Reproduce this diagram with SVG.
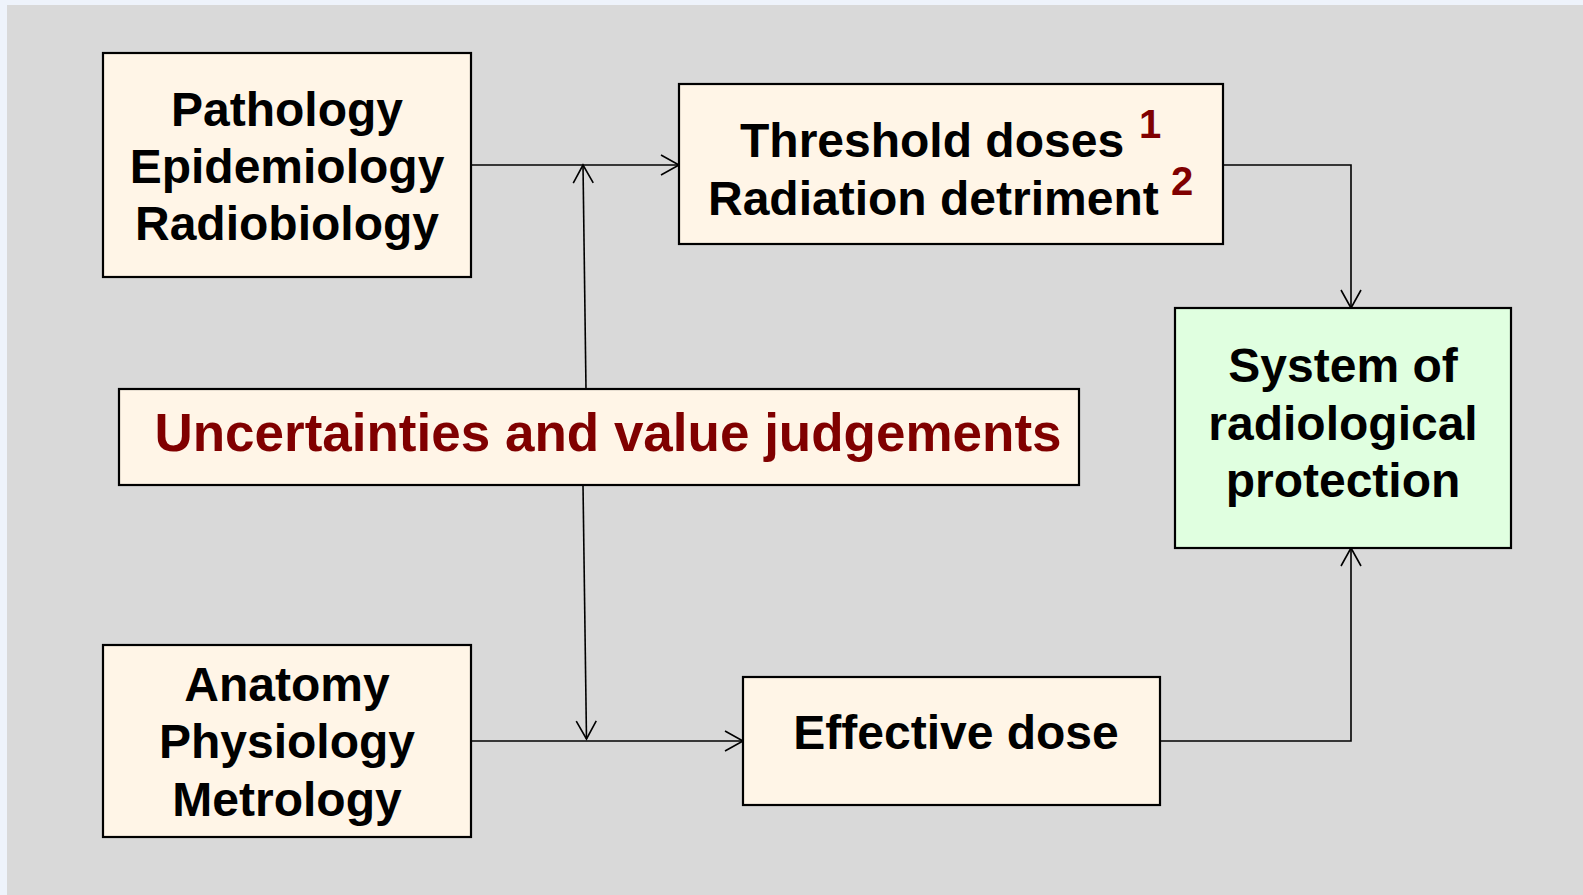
<svg xmlns="http://www.w3.org/2000/svg" width="1583" height="895" viewBox="0 0 1583 895">
<style>
.box{fill:#fff5e7;stroke:#000;stroke-width:2.2}
.green{fill:#e0ffe0;stroke:#000;stroke-width:2.2}
.t{font-family:"Liberation Sans",Arial,sans-serif;font-weight:bold;font-size:48px;fill:#000;text-anchor:middle}
.red{fill:#800000}
.sup{font-family:"Liberation Sans",Arial,sans-serif;font-weight:bold;font-size:40px;fill:#800000}
.c{fill:none;stroke:#000;stroke-width:1.6}
.sh{fill:none;stroke:#7d8a9c;stroke-width:7;opacity:0.85}
</style>
<defs>
<marker id="ah" markerUnits="userSpaceOnUse" markerWidth="24" markerHeight="24" viewBox="-20 -12 24 24" refX="0" refY="0" orient="auto">
<path d="M-18,-10 L0,0 L-18,10" fill="none" stroke="#000" stroke-width="1.6"/>
</marker>
<filter id="blur" x="-10%" y="-200%" width="120%" height="500%">
<feGaussianBlur stdDeviation="3"/>
</filter>
</defs>
<rect x="0" y="0" width="1583" height="895" fill="#eef3fb"/>
<rect x="7" y="5" width="1576" height="890" fill="#d9d9d9"/>

<g id="connectors">
<line class="sh" x1="474" y1="172" x2="676" y2="172" filter="url(#blur)"/>
<line class="sh" x1="474" y1="747" x2="740" y2="747" filter="url(#blur)"/>
<line class="c" x1="471" y1="165" x2="679" y2="165" marker-end="url(#ah)"/>
<line class="c" x1="586" y1="389" x2="583" y2="165" marker-end="url(#ah)"/>
<line class="c" x1="583" y1="485" x2="586.5" y2="739" marker-end="url(#ah)"/>
<line class="c" x1="471" y1="741" x2="743" y2="741" stroke="#333" stroke-width="2" marker-end="url(#ah)"/>
<polyline class="c" points="1223,165 1351,165 1351,308" marker-end="url(#ah)"/>
<polyline class="c" points="1160,741 1351,741 1351,548" marker-end="url(#ah)"/>
</g>

<g id="n-pathology">
<rect class="box" x="103" y="53" width="368" height="224"/>
<text class="t" x="287" y="126">Pathology</text>
<text class="t" x="287" y="183">Epidemiology</text>
<text class="t" x="287" y="240">Radiobiology</text>
</g>

<g id="n-threshold">
<rect class="box" x="679" y="84" width="544" height="160"/>
<text class="t" x="740" y="157" style="text-anchor:start">Threshold doses</text>
<text class="sup" x="1139" y="138">1</text>
<text class="t" x="708" y="215" style="text-anchor:start">Radiation detriment</text>
<text class="sup" x="1171" y="195">2</text>
</g>

<g id="n-system">
<rect class="green" x="1175" y="308" width="336" height="240"/>
<text class="t" x="1343" y="382">System of</text>
<text class="t" x="1343" y="440">radiological</text>
<text class="t" x="1343" y="497">protection</text>
</g>

<g id="n-uncertainties">
<rect class="box" x="119" y="389" width="960" height="96"/>
<text class="t red" x="608" y="451" style="font-size:53px">Uncertainties and value judgements</text>
</g>

<g id="n-anatomy">
<rect class="box" x="103" y="645" width="368" height="192"/>
<text class="t" x="287" y="701">Anatomy</text>
<text class="t" x="287" y="758">Physiology</text>
<text class="t" x="287" y="816">Metrology</text>
</g>

<g id="n-effective">
<rect class="box" x="743" y="677" width="417" height="128"/>
<text class="t" x="956" y="749">Effective dose</text>
</g>
</svg>
